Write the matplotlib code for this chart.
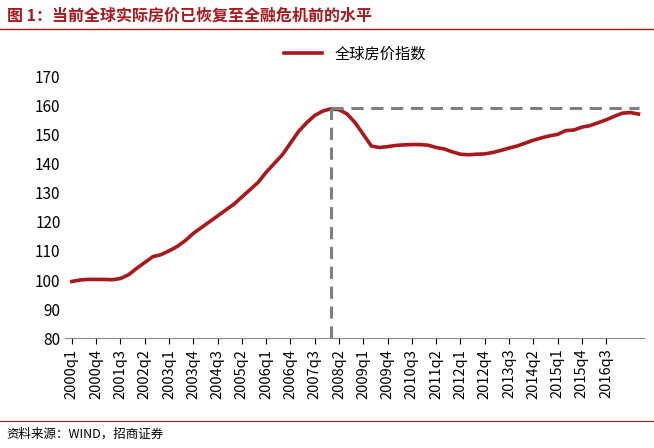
import matplotlib
matplotlib.use("Agg")
import matplotlib.pyplot as plt

plt.rcParams["font.family"] = ["Noto Sans CJK SC", "DejaVu Sans"]

# quarterly index, 2000q1 .. 2017q3
start_year = 2000
values = [99.5, 100, 100.2, 100.2, 100.2, 100.1, 100.5, 101.8, 104, 106,
          108, 108.7, 110, 111.5, 113.5, 116, 118, 120, 122, 124,
          126, 128.5, 131, 133.5, 137, 140, 143, 147, 151, 154,
          156.5, 158, 158.8, 158.5, 157, 154, 150, 146, 145.5, 145.8,
          146.2, 146.4, 146.5, 146.5, 146.3, 145.5, 145, 144, 143.2, 143,
          143.2, 143.3, 143.8, 144.5, 145.3, 146, 147, 148, 148.8, 149.5,
          150, 151.3, 151.5, 152.5, 153, 154, 155, 156.2, 157.3, 157.5, 157]
peak_idx = 32
peak_level = 159
last_label_idx = 66  # 2016q3
series_name = "全球房价指数"
title = "图 1：当前全球实际房价已恢复至全融危机前的水平"
source = "资料来源：WIND，招商证券"

labels = [f"{start_year + i // 4}q{i % 4 + 1}" for i in range(len(values))]
x = list(range(len(values)))
red = "#a8191e"

fig = plt.figure(figsize=(6.54, 4.48), dpi=100)
ax = fig.add_axes([0.1, 0.245, 0.885, 0.585])
ax.plot(x, values, color=red, lw=2.6, label=series_name)
ax.plot([peak_idx, peak_idx], [80, peak_level], color="#7f7f7f", lw=2.2, ls=(0, (4, 2.5)))
ax.plot([peak_idx, len(values) - 1], [peak_level, peak_level], color="#7f7f7f", lw=2.2, ls=(0, (4, 2.5)))

ax.set_ylim(80, 170)
ax.set_yticks(range(80, 171, 10))
ax.set_xlim(-0.8, len(values) - 0.3)
ax.set_xticks(x[:last_label_idx + 1:3])
ax.set_xticklabels(labels[:last_label_idx + 1:3], rotation=90, fontsize=10.5)
ax.tick_params(axis="y", labelsize=11, length=0)
ax.tick_params(axis="x", length=4, direction="out")
for s in ["top", "right", "left"]:
    ax.spines[s].set_visible(False)
ax.spines["bottom"].set_color("#888888")
ax.legend(loc="upper center", bbox_to_anchor=(0.5, 1.17), frameon=False, fontsize=11, handlelength=2.5)

fig.text(0.01, 0.965, title, color="#a8191e", fontsize=11.5, fontweight="bold", va="center")
fig.add_artist(plt.Line2D([0.0, 1.0], [0.935, 0.935], color="#a8191e", lw=1))
fig.text(0.01, 0.03, source, fontsize=9, va="center")
fig.add_artist(plt.Line2D([0.0, 1.0], [0.06, 0.06], color="#a8191e", lw=0.8))

fig.savefig("out.png", dpi=100)
